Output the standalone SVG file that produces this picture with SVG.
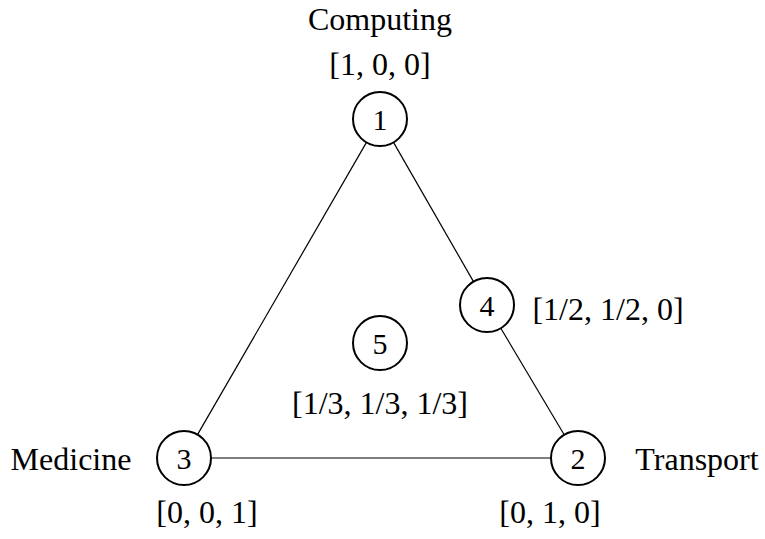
<svg xmlns="http://www.w3.org/2000/svg" width="765" height="539" viewBox="0 0 765 539">
<style>
.node circle{fill:#fff;stroke:#000;stroke-width:2}
.num{font-family:"Liberation Serif","Times New Roman",serif;font-size:30px;text-anchor:middle;fill:#000}
.lbl{font-family:"Liberation Serif","Times New Roman",serif;font-size:32px;text-anchor:middle;fill:#000}
.edge{stroke:#000;stroke-width:1.2;fill:none}
</style>
<rect width="765" height="539" fill="#fff"/>
<g id="connectors">
<line class="edge" x1="366.5" y1="142.4" x2="197.5" y2="434.6"/>
<line class="edge" x1="211" y1="458" x2="551" y2="458"/>
<line class="edge" x1="393.5" y1="142.4" x2="473.5" y2="281.6"/>
<line class="edge" x1="500.8" y1="328.2" x2="564.2" y2="434.8"/>
</g>
<g id="node1" class="node">
<circle cx="380" cy="119" r="27"/>
<text class="num" x="380" y="129.5">1</text>
<text class="lbl" x="380" y="30">Computing</text>
<text class="lbl" x="380" y="75">[1, 0, 0]</text>
</g>
<g id="node2" class="node">
<circle cx="578" cy="458" r="27"/>
<text class="num" x="578" y="468.5">2</text>
<text class="lbl" x="697" y="470">Transport</text>
<text class="lbl" x="550" y="523">[0, 1, 0]</text>
</g>
<g id="node3" class="node">
<circle cx="184" cy="458" r="27"/>
<text class="num" x="184" y="468.5">3</text>
<text class="lbl" x="71" y="470">Medicine</text>
<text class="lbl" x="207" y="523">[0, 0, 1]</text>
</g>
<g id="node4" class="node">
<circle cx="487" cy="305" r="27"/>
<text class="num" x="487" y="315.5">4</text>
<text class="lbl" x="608" y="320">[1/2, 1/2, 0]</text>
</g>
<g id="node5" class="node">
<circle cx="380" cy="343" r="27"/>
<text class="num" x="380" y="353.5">5</text>
<text class="lbl" x="380" y="414">[1/3, 1/3, 1/3]</text>
</g>
</svg>
